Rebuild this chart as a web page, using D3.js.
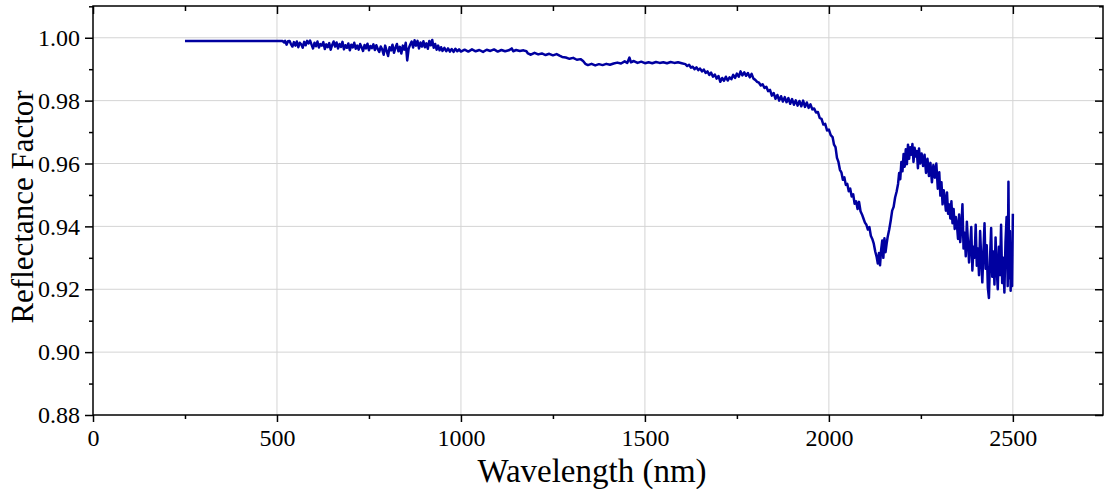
<!DOCTYPE html>
<html>
<head>
<meta charset="utf-8">
<script src="https://cdn.jsdelivr.net/npm/d3@7"></script>
<style>
  body { margin: 0; background: #fff; }
  svg { display: block; }
</style>
</head>
<body>
<svg id="chart" width="1104" height="489"></svg>
<script>
// spectrum pieces, [wavelength nm, reflectance factor]
var visible = [
  [250,0.9990],[515,0.9990],[519,0.9985],[522,0.9990],[526,0.9978],[530,0.9989],[534,0.9990],[538,0.9980],
  [542,0.9972],[546,0.9986],[550,0.9975],[554,0.9988],[558,0.9970],[562,0.9984],[566,0.9979],[570,0.9968],
  [574,0.9987],[578,0.9976],[582,0.9990],[586,0.9982],[590,0.9991],[594,0.9978],[598,0.9966],[602,0.9984],
  [606,0.9973],[610,0.9988],[614,0.9969],[618,0.9980],[622,0.9975],[626,0.9986],[630,0.9964],[634,0.9979],
  [638,0.9970],[642,0.9983],[646,0.9962],[650,0.9977],[654,0.9988],[658,0.9972],[662,0.9985],[666,0.9966],
  [670,0.9980],[674,0.9971],[678,0.9987],[682,0.9963],[686,0.9976],[690,0.9968],[694,0.9982],[698,0.9960],
  [702,0.9978],[706,0.9969],[710,0.9984],[714,0.9965],[718,0.9975],[722,0.9962],[726,0.9980],[730,0.9970],
  [734,0.9958],[738,0.9977],[742,0.9966],[746,0.9981],[750,0.9960],[754,0.9974],[758,0.9967],[762,0.9979],
  [766,0.9961],[770,0.9976],[774,0.9964],[778,0.9955],[782,0.9972],[786,0.9963],[790,0.9946],[794,0.9975],
  [798,0.9958],[802,0.9942],[806,0.9970],[810,0.9960],[814,0.9978],[818,0.9952],[822,0.9968],[826,0.9980],
  [830,0.9957],[834,0.9971],[838,0.9950],[842,0.9975],[846,0.9962],[850,0.9984],[854,0.9928],[858,0.9966],
  [862,0.9978],[866,0.9988],[870,0.9969],[874,0.9992],[878,0.9975],[882,0.9990],[886,0.9966],[890,0.9985],
  [894,0.9972],[898,0.9989],[902,0.9970],[906,0.9982],[910,0.9965],[914,0.9990],[918,0.9976],[922,0.9993],
  [926,0.9968],[930,0.9980],[934,0.9962],[938,0.9975],[942,0.9960],[946,0.9970],[950,0.9958],[955,0.9968],
  [960,0.9957],[965,0.9966],[970,0.9956],[975,0.9964],[980,0.9955],[985,0.9965],[990,0.9957],[995,0.9963],
  [1000,0.9956]
];
var nir = [
  [1010,0.9962],[1020,0.9956],[1030,0.9963],[1040,0.9957],[1050,0.9961],[1060,0.9955],[1070,0.9962],
  [1080,0.9958],[1090,0.9963],[1100,0.9956],[1110,0.9961],[1120,0.9957],[1130,0.9960],[1138,0.9966],
  [1142,0.9957],[1150,0.9961],[1160,0.9958],[1170,0.9960],[1178,0.9957],[1182,0.9950],[1190,0.9946],
  [1200,0.9952],[1210,0.9947],[1220,0.9950],[1230,0.9945],[1240,0.9949],[1250,0.9944],[1260,0.9948],
  [1268,0.9943],[1275,0.9939],[1285,0.9937],[1295,0.9933],[1305,0.9936],[1315,0.9930],[1325,0.9932],
  [1332,0.9926],[1338,0.9917],[1345,0.9913],[1355,0.9917],[1365,0.9912],[1375,0.9916],[1385,0.9913],
  [1395,0.9917],[1405,0.9914],[1415,0.9918],[1425,0.9921],[1435,0.9918],[1445,0.9925],[1452,0.9920],
  [1458,0.9937],[1462,0.9922],[1470,0.9926],[1480,0.9920],[1490,0.9924],[1500,0.9919],[1510,0.9922],
  [1520,0.9919],[1530,0.9923],[1540,0.9920],[1550,0.9922],[1560,0.9919],[1570,0.9923],[1580,0.9920],
  [1590,0.9922],[1600,0.9919],[1610,0.9916]
];
var swir1 = [
  [1615,0.9910],[1620,0.9914],[1625,0.9905],[1630,0.9908],[1635,0.9900],[1640,0.9906],[1645,0.9897],
  [1650,0.9902],[1655,0.9893],[1660,0.9899],[1665,0.9888],[1670,0.9893],[1675,0.9882],[1680,0.9889],
  [1685,0.9876],[1690,0.9883],[1695,0.9870],[1700,0.9878],[1705,0.9860],[1710,0.9872],[1715,0.9863],
  [1720,0.9876],[1725,0.9864],[1730,0.9874],[1735,0.9868],[1740,0.9882],[1745,0.9872],[1750,0.9886],
  [1755,0.9876],[1760,0.9893],[1765,0.9880],[1770,0.9890],[1775,0.9879],[1780,0.9888],[1785,0.9874],
  [1790,0.9885],[1795,0.9870],[1800,0.9866],[1805,0.9860],[1810,0.9857],[1815,0.9848],[1820,0.9852],
  [1825,0.9840],[1830,0.9844],[1835,0.9830],[1840,0.9834],[1845,0.9816],[1850,0.9824],[1855,0.9806],
  [1860,0.9818],[1865,0.9800],[1870,0.9814],[1875,0.9797],[1880,0.9811],[1885,0.9795],[1890,0.9808],
  [1895,0.9790],[1900,0.9805],[1905,0.9787],[1910,0.9801],[1915,0.9784],[1920,0.9799],[1925,0.9782],
  [1930,0.9800],[1935,0.9780],[1940,0.9794],[1945,0.9777],[1950,0.9788],[1955,0.9772],[1960,0.9775],
  [1965,0.9762],[1970,0.9764],[1975,0.9745],[1980,0.9742],[1985,0.9724],[1990,0.9726],[1995,0.9705],
  [2000,0.9708],[2005,0.9690]
];
var swir2 = [
  [2010,0.9684],[2014,0.9660],[2018,0.9652],[2022,0.9618],[2026,0.9605],[2030,0.9580],[2034,0.9572],
  [2038,0.9548],[2042,0.9556],[2046,0.9532],[2050,0.9535],[2054,0.9512],[2058,0.9520],[2062,0.9495],
  [2066,0.9502],[2070,0.9472],[2074,0.9480],[2078,0.9455],[2082,0.9478],[2086,0.9448],[2090,0.9438],
  [2094,0.9425],[2098,0.9412],[2102,0.9405],[2106,0.9390],[2110,0.9398],[2114,0.9370],[2118,0.9360],
  [2122,0.9345],[2126,0.9320],[2130,0.9302],[2133,0.9282],[2136,0.9315],[2139,0.9276],[2142,0.9325],
  [2145,0.9355],[2148,0.9300],[2151,0.9362],[2154,0.9318],[2157,0.9345],[2160,0.9368],[2164,0.9390],
  [2168,0.9418],[2172,0.9450],[2176,0.9462],[2180,0.9492],[2184,0.9510],[2188,0.9535],[2191,0.9570],
  [2194,0.9550],[2197,0.9605],[2200,0.9575],[2203,0.9630],[2206,0.9590],[2209,0.9645],[2212,0.9598],
  [2215,0.9660],[2218,0.9615],[2221,0.9652],[2224,0.9628],[2227,0.9662],[2230,0.9605],[2233,0.9650],
  [2236,0.9622],[2239,0.9640],[2242,0.9585],[2245,0.9648],[2248,0.9600],[2252,0.9632],[2256,0.9592],
  [2260,0.9628],[2264,0.9570],[2268,0.9615],[2272,0.9560],[2276,0.9602],[2280,0.9540],[2284,0.9595],
  [2288,0.9555],[2292,0.9600],[2296,0.9520]
];
var swir3 = [
  [2300,0.9572],[2303,0.9498],[2306,0.9540],[2309,0.9470],[2312,0.9515],[2315,0.9488],[2318,0.9450],
  [2321,0.9508],[2324,0.9440],[2327,0.9470],[2330,0.9425],[2333,0.9480],[2336,0.9410],[2339,0.9455],
  [2342,0.9392],[2345,0.9430],[2348,0.9405],[2351,0.9360],[2354,0.9438],[2357,0.9350],[2360,0.9398],
  [2363,0.9470],[2366,0.9330],[2369,0.9380],[2372,0.9305],[2375,0.9415],[2378,0.9350],[2381,0.9285],
  [2384,0.9340],[2387,0.9398],[2390,0.9260],[2393,0.9335],[2396,0.9300],[2399,0.9405],[2402,0.9275],
  [2405,0.9330],[2408,0.9245],[2411,0.9385],[2414,0.9300],[2417,0.9222],[2420,0.9318],[2423,0.9410],
  [2426,0.9265],[2429,0.9340],[2432,0.9205],[2435,0.9172],[2438,0.9300],[2441,0.9395],[2444,0.9240],
  [2447,0.9320],[2450,0.9215],[2453,0.9365],[2456,0.9270],[2459,0.9200],[2462,0.9335],[2465,0.9245],
  [2468,0.9405],[2471,0.9220],[2474,0.9300],[2477,0.9190],[2480,0.9350],[2483,0.9430],[2486,0.9210],
  [2488,0.9542],[2490,0.9235],[2492,0.9385],[2494,0.9195],[2496,0.9320],[2498,0.9210],[2500,0.9440]
];

var xTicks = [0, 500, 1000, 1500, 2000, 2500];
var xMinor = [250, 750, 1250, 1750, 2250];
var yTicks = [0.88, 0.90, 0.92, 0.94, 0.96, 0.98, 1.00];
var yMinor = [0.89, 0.91, 0.93, 0.95, 0.97, 0.99, 1.01];

var spectrum = visible.concat(nir, swir1, swir2, swir3);

var serif = "Liberation Serif";
var margin = {left: 93, top: 6, right: 1, bottom: 74};
var W = 1104, H = 489;
var w = W - margin.left - margin.right;
var h = H - margin.top - margin.bottom;

var svg = d3.select("#chart");
svg.append("rect").attr("width", W).attr("height", H).attr("fill", "#fff");

var x = d3.scaleLinear().domain([0, 2745]).range([0, w]);
var y = d3.scaleLinear().domain([0.88, 1.0101]).range([h, 0]);

var g = svg.append("g").attr("transform", "translate(" + margin.left + "," + margin.top + ")");

// grid
g.append("g").selectAll("line").data(xTicks.slice(1)).enter().append("line")
  .attr("x1", d => x(d)).attr("x2", d => x(d)).attr("y1", 0).attr("y2", h)
  .attr("stroke", "#d4d4d4").attr("stroke-width", 1);
g.append("g").selectAll("line").data(yTicks.slice(1)).enter().append("line")
  .attr("x1", 0).attr("x2", w).attr("y1", d => y(d)).attr("y2", d => y(d))
  .attr("stroke", "#d4d4d4").attr("stroke-width", 1);

g.append("clipPath").attr("id", "clip").append("rect").attr("width", w).attr("height", h);

var line = d3.line().x(d => x(d[0])).y(d => y(d[1]));
g.append("path").datum(spectrum)
  .attr("clip-path", "url(#clip)")
  .attr("fill", "none").attr("stroke", "#0000a0").attr("stroke-width", 2.5)
  .attr("stroke-linejoin", "round")
  .attr("d", line);

function styleAxis(sel) {
  sel.attr("font-family", serif).attr("font-size", 24);
  sel.select(".domain").remove();
  sel.selectAll(".tick line").attr("stroke", "#000").attr("stroke-width", 1.5);
  sel.selectAll(".tick text").attr("fill", "#000").attr("font-family", serif);
}

// bottom
g.append("g").attr("transform", "translate(0," + h + ")")
  .call(d3.axisBottom(x).tickValues(xTicks).tickSize(7).tickPadding(7).tickFormat(d3.format("d")))
  .call(styleAxis);
g.append("g").attr("transform", "translate(0," + h + ")")
  .call(d3.axisBottom(x).tickValues(xMinor).tickSize(4).tickFormat(""))
  .call(styleAxis);
// top, inward
g.append("g")
  .call(d3.axisBottom(x).tickValues(xTicks).tickSize(8).tickFormat(""))
  .call(styleAxis);
g.append("g")
  .call(d3.axisBottom(x).tickValues(xMinor).tickSize(5).tickFormat(""))
  .call(styleAxis);
// left
g.append("g")
  .call(d3.axisLeft(y).tickValues(yTicks).tickSize(8).tickPadding(5).tickFormat(d3.format(".2f")))
  .call(styleAxis);
g.append("g")
  .call(d3.axisLeft(y).tickValues(yMinor).tickSize(4).tickFormat(""))
  .call(styleAxis);
// right, inward
g.append("g").attr("transform", "translate(" + w + ",0)")
  .call(d3.axisLeft(y).tickValues(yTicks).tickSize(8).tickFormat(""))
  .call(styleAxis);
g.append("g").attr("transform", "translate(" + w + ",0)")
  .call(d3.axisLeft(y).tickValues(yMinor).tickSize(4).tickFormat(""))
  .call(styleAxis);

// frame
g.append("rect").attr("width", w).attr("height", h)
  .attr("fill", "none").attr("stroke", "#000").attr("stroke-width", 1.5);

svg.append("text").attr("x", 592).attr("y", 482).attr("text-anchor", "middle")
  .attr("font-family", serif).attr("font-size", 33)
  .text("Wavelength (nm)");
svg.append("text").attr("transform", "translate(33,207) rotate(-90)").attr("text-anchor", "middle")
  .attr("font-family", serif).attr("font-size", 31)
  .text("Reflectance Factor");
</script>
</body>
</html>
